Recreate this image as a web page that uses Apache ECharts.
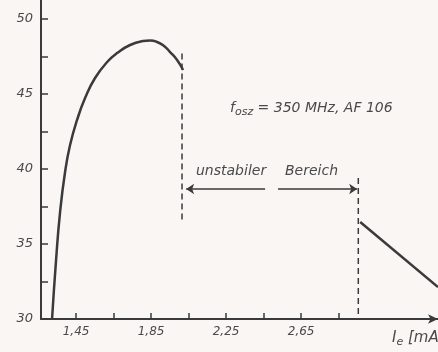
<!DOCTYPE html>
<html><head><meta charset="utf-8">
<script src="https://cdn.jsdelivr.net/npm/echarts@6/dist/echarts.min.js"></script>
<style>html,body{margin:0;padding:0;background:#faf6f4;}#c{width:438px;height:352px;}</style>
</head><body><div id="c"></div>
<script>
const xTickValues = [1.45,1.65,1.85,2.05,2.25,2.45,2.65,2.85];
const xLabelValues = [1.45,1.85,2.25,2.65];
const yTickValues = [30,32.5,35,37.5,40,42.5,45,47.5,50];
const yLabelValues = [30,35,40,45,50];
const stableCurve = [[1.322,30],[1.3433,33.93],[1.3647,37.13],[1.3913,39.8],[1.418,41.6],[1.4553,43.27],[1.498,44.73],[1.5513,46.07],[1.6207,47.2],[1.6687,47.73],[1.738,48.27],[1.8073,48.53],[1.8447,48.57],[1.882,48.47],[1.9193,48.2],[1.9513,47.8],[1.9887,47.27],[2.0207,46.6]];
const unstableLine = [[2.965,36.47],[3.38,32.13]];
const boundaryLeft = [[2.015,47.7],[2.015,36.5]];
const boundaryRight = [[2.955,39.4],[2.955,30]];
const arrowLeft = [[2.458,38.67],[2.037,38.67]];
const arrowRight = [[2.527,38.67],[2.949,38.67]];

const ink = '#3a3a3a';
const txt = '#4a4a4a';
const font = 'DejaVu Sans';
const chart = echarts.init(document.getElementById('c'), null, {renderer:'canvas'});
chart.setOption({
  backgroundColor:'#faf6f4',
  animation:false,
  grid:{left:41,right:0,top:0,bottom:33},
  xAxis:{type:'value',min:1.263,max:3.38,
    axisLine:{show:true,symbol:['none','arrow'],symbolSize:[7,10],lineStyle:{color:ink,width:2}},
    axisTick:{show:true,inside:true,length:6,customValues:xTickValues,lineStyle:{color:ink,width:1.5}},
    axisLabel:{customValues:xLabelValues,margin:7,color:txt,fontFamily:font,fontStyle:'italic',fontSize:12,
      formatter:v=>v.toFixed(2).replace('.',',')},
    splitLine:{show:false}},
  yAxis:{type:'value',min:30,max:51.27,
    axisLine:{show:true,lineStyle:{color:ink,width:2}},
    axisTick:{show:true,inside:true,length:7,customValues:yTickValues,lineStyle:{color:ink,width:1.5}},
    axisLabel:{customValues:yLabelValues,margin:8,color:txt,fontFamily:font,fontStyle:'italic',fontSize:13},
    splitLine:{show:false}},
  series:[
    {type:'line',data:stableCurve,smooth:0.5,symbol:'none',lineStyle:{color:ink,width:2.5}},
    {type:'line',data:unstableLine,symbol:'none',lineStyle:{color:ink,width:2.5}},
    {type:'line',data:boundaryLeft,symbol:'none',lineStyle:{color:ink,width:1.5,type:[6,4]}},
    {type:'line',data:boundaryRight,symbol:'none',lineStyle:{color:ink,width:1.5,type:[6,4]}},
    {type:'lines',coordinateSystem:'cartesian2d',symbol:['none','arrow'],symbolSize:8,
      lineStyle:{color:ink,width:1.5,opacity:1},data:[{coords:arrowLeft},{coords:arrowRight}]}
  ],
  graphic:[
    {type:'text',left:196,top:164,style:{text:'unstabiler',fill:txt,font:'italic 14px "DejaVu Sans"'}},
    {type:'text',left:285,top:164,style:{text:'Bereich',fill:txt,font:'italic 14px "DejaVu Sans"'}},
    {type:'text',left:230,top:101,style:{
      text:'{a|f}{s|osz}{a| = 350 MHz, AF 106}',
      rich:{a:{fill:txt,fontFamily:font,fontStyle:'italic',fontSize:14},
            s:{fill:txt,fontFamily:font,fontStyle:'italic',fontSize:11,padding:[8,0,0,0]}}}},
    {type:'text',left:392,top:331,style:{
      text:'{a|I}{s|e}{a| [mA]}',
      rich:{a:{fill:txt,fontFamily:font,fontStyle:'italic',fontSize:15},
            s:{fill:txt,fontFamily:font,fontStyle:'italic',fontSize:11,padding:[8,0,0,0]}}}}
  ]
});
</script></body></html>
